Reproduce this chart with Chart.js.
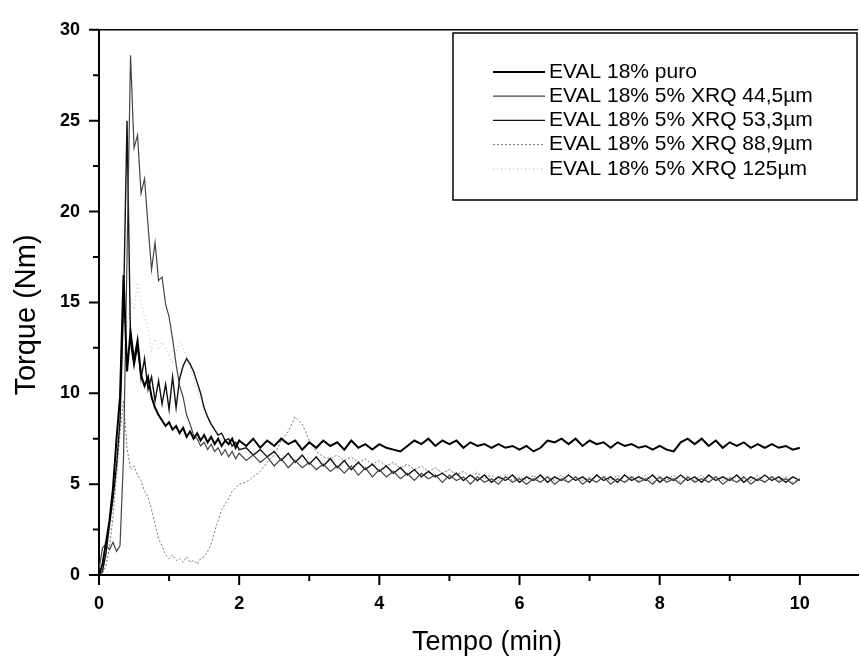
<!DOCTYPE html>
<html>
<head>
<meta charset="utf-8">
<script src="https://cdn.jsdelivr.net/npm/chart.js@4"></script>
<style>
  body { margin: 0; background: #fff; }
</style>
</head>
<body>
<canvas id="myChart" width="860" height="656"></canvas>
<script>
const time = [
  0, 0.05, 0.1, 0.15, 0.2, 0.25, 0.3, 0.35, 0.4, 0.45, 0.5, 0.55, 0.6, 0.65, 0.7, 0.75, 0.8, 0.85, 0.9, 0.95,
  1.0, 1.05, 1.1, 1.15, 1.2, 1.25, 1.3, 1.35, 1.4, 1.45, 1.5, 1.55, 1.6, 1.65, 1.7, 1.75, 1.8, 1.85, 1.9, 1.95, 2.0,
  2.1, 2.2, 2.3, 2.4, 2.5, 2.6, 2.7, 2.8, 2.9, 3.0, 3.1, 3.2, 3.3, 3.4, 3.5, 3.6, 3.7, 3.8, 3.9, 4.0,
  4.1, 4.2, 4.3, 4.4, 4.5, 4.6, 4.7, 4.8, 4.9, 5.0, 5.1, 5.2, 5.3, 5.4, 5.5, 5.6, 5.7, 5.8, 5.9, 6.0,
  6.1, 6.2, 6.3, 6.4, 6.5, 6.6, 6.7, 6.8, 6.9, 7.0, 7.1, 7.2, 7.3, 7.4, 7.5, 7.6, 7.7, 7.8, 7.9, 8.0,
  8.1, 8.2, 8.3, 8.4, 8.5, 8.6, 8.7, 8.8, 8.9, 9.0, 9.1, 9.2, 9.3, 9.4, 9.5, 9.6, 9.7, 9.8, 9.9, 10.0
]

const labels = [
  "EVAL 18% puro",
  "EVAL 18% 5% XRQ 44,5\u00b5m",
  "EVAL 18% 5% XRQ 53,3\u00b5m",
  "EVAL 18% 5% XRQ 88,9\u00b5m",
  "EVAL 18% 5% XRQ 125\u00b5m"
]

const puro = [
  0, 0.6, 1.8, 3.0, 4.8, 7.5, 9.8, 16.5, 11.2, 13.4, 11.8, 12.9, 11.0, 10.4, 10.9, 9.8, 9.2, 8.8, 8.5, 8.2,
  8.4, 8.0, 8.2, 7.8, 8.1, 7.6, 7.9, 7.5, 7.8, 7.4, 7.7, 7.3, 7.6, 7.2, 7.5, 7.1, 7.4, 7.2, 7.5, 7.0, 7.4,
  7.1, 7.5, 7.0, 7.4, 7.1, 7.5, 7.2, 7.4, 6.9, 7.3, 7.0, 7.4, 7.1, 7.3, 6.9, 7.4, 7.0, 7.2, 6.9, 7.2,
  7.0, 6.9, 6.8, 7.1, 7.4, 7.2, 7.5, 7.1, 7.4, 7.2, 7.4, 7.0, 7.3, 7.1, 7.2, 7.0, 7.2, 7.0, 7.1, 6.9,
  7.1, 6.8, 7.0, 7.4, 7.3, 7.5, 7.2, 7.5, 7.1, 7.4, 7.2, 7.3, 7.0, 7.3, 7.1, 7.2, 7.0, 7.1, 6.9, 7.1,
  6.9, 6.8, 7.3, 7.5, 7.2, 7.5, 7.1, 7.4, 7.0, 7.3, 7.1, 7.3, 7.0, 7.2, 7.0, 7.2, 7.0, 7.1, 6.9, 7.0
]

const xrq445 = [
  0.3, 1.5, 1.7, 1.4, 1.8, 1.3, 1.6, 6.5, 17.5, 28.6, 23.5, 24.2, 21.0, 21.8, 19.2, 16.8, 18.3, 16.2, 16.4, 14.9,
  14.2, 13.0, 11.6, 10.4, 9.8, 8.8, 8.3, 7.7, 7.5, 7.1, 7.3, 6.9, 7.2, 6.8, 7.0, 6.6, 6.9, 6.5, 6.8, 6.4, 6.7,
  6.3, 6.6, 6.2, 6.5, 6.0, 6.4, 5.9, 6.3, 5.9, 6.2, 5.8, 6.1, 5.7, 6.0, 5.6, 6.0, 5.5, 5.9, 5.4, 5.8,
  5.4, 5.7, 5.3, 5.6, 5.2, 5.6, 5.3, 5.5, 5.1, 5.5, 5.2, 5.4, 5.0, 5.4, 5.1, 5.3, 5.0, 5.4, 5.1, 5.3,
  5.0, 5.3, 5.1, 5.4, 5.0, 5.3, 5.1, 5.4, 5.0, 5.3, 5.1, 5.4, 5.0, 5.3, 5.1, 5.4, 5.1, 5.3, 5.0, 5.4,
  5.1, 5.3, 5.0, 5.4, 5.1, 5.3, 5.1, 5.4, 5.0, 5.3, 5.1, 5.4, 5.0, 5.3, 5.1, 5.4, 5.1, 5.3, 5.0, 5.3
]

const xrq533 = [
  0, 0.2, 1.2, 2.8, 4.2, 6.0, 8.5, 14.8, 25.0, 12.8, 11.5, 12.6, 10.8, 11.9, 10.2, 10.9, 9.6, 10.7, 9.4, 10.5,
  9.1, 10.9, 9.2, 10.8, 11.5, 11.9, 11.6, 11.2, 10.6, 10.0, 9.2, 8.7, 8.3, 8.0, 7.7, 7.8, 7.4, 7.5, 7.1, 7.3, 6.9,
  7.0, 6.6, 6.9, 6.5, 6.8, 6.3, 6.7, 6.2, 6.6, 6.1, 6.5, 6.0, 6.4, 5.9, 6.3, 5.8, 6.2, 5.8, 6.1, 5.7,
  6.0, 5.6, 5.9, 5.5, 5.8, 5.4, 5.7, 5.4, 5.6, 5.3, 5.6, 5.2, 5.5, 5.2, 5.5, 5.1, 5.4, 5.2, 5.5, 5.1,
  5.4, 5.2, 5.5, 5.1, 5.4, 5.2, 5.5, 5.2, 5.4, 5.1, 5.5, 5.2, 5.4, 5.1, 5.5, 5.2, 5.4, 5.2, 5.5, 5.1,
  5.4, 5.2, 5.5, 5.2, 5.4, 5.1, 5.5, 5.2, 5.4, 5.2, 5.5, 5.1, 5.4, 5.2, 5.5, 5.2, 5.4, 5.1, 5.4, 5.2
]

const xrq889 = [
  0, 0.1, 0.5, 1.5, 3.2, 5.5, 7.8, 9.6, 7.0, 5.8, 6.0, 5.5, 5.2, 4.6, 4.3, 3.6, 2.8, 2.0, 1.6, 1.1,
  0.9, 1.1, 0.8, 0.9, 0.7, 1.0, 0.7, 0.8, 0.6, 0.9, 1.0, 1.3, 1.7, 2.4, 3.0, 3.6, 3.9, 4.2, 4.6, 4.8, 5.0,
  5.1, 5.4, 5.7, 6.2, 6.6, 7.4, 7.9, 8.7, 8.3, 7.4, 6.8, 6.5, 6.4, 6.6, 6.3, 6.5, 6.2, 6.4, 6.1, 6.3,
  6.0, 6.2, 5.9, 6.1, 5.8, 6.0, 5.7, 5.9, 5.6, 5.8, 5.5, 5.7, 5.4, 5.6, 5.3, 5.5, 5.2, 5.5, 5.2, 5.4,
  5.2, 5.5, 5.1, 5.4, 5.2, 5.5, 5.1, 5.4, 5.2, 5.4, 5.1, 5.4, 5.2, 5.5, 5.1, 5.3, 5.2, 5.5, 5.1, 5.3,
  5.2, 5.5, 5.1, 5.3, 5.2, 5.5, 5.1, 5.4, 5.2, 5.4, 5.1, 5.3, 5.2, 5.5, 5.1, 5.4, 5.2, 5.4, 5.1, 5.3
]

const xrq125 = [
  0, 0.2, 0.8, 2.0, 4.0, 6.5, 9.5, 12.0, 13.8, 15.2, 14.6, 16.1, 15.0, 14.2, 13.5, 12.3, 13.0, 12.4, 12.8, 12.5,
  12.0, 11.6, 12.3, 12.8, 12.5, 12.0, 11.4, 10.8, 10.1, 9.6, 9.0, 8.6, 8.2, 7.9, 7.6, 7.4, 7.3, 7.1, 7.0, 6.9, 6.8,
  6.7, 6.8, 6.6, 6.7, 6.5, 6.6, 6.4, 6.6, 6.3, 6.5, 6.3, 6.5, 6.2, 6.4, 6.2, 6.4, 6.1, 6.3, 6.0, 6.2,
  6.0, 6.1, 5.9, 6.0, 5.8, 5.9, 5.7, 5.9, 5.6, 5.8, 5.6, 5.7, 5.5, 5.7, 5.4, 5.6, 5.4, 5.6, 5.3, 5.5,
  5.3, 5.5, 5.3, 5.5, 5.2, 5.4, 5.3, 5.5, 5.2, 5.4, 5.3, 5.5, 5.2, 5.4, 5.3, 5.5, 5.2, 5.4, 5.3, 5.5,
  5.2, 5.4, 5.3, 5.5, 5.2, 5.4, 5.3, 5.5, 5.2, 5.4, 5.3, 5.5, 5.2, 5.4, 5.3, 5.5, 5.2, 5.4, 5.3, 5.4
]

const xTicks = [0, 2, 4, 6, 8, 10]
const xMinor = [1, 3, 5, 7, 9]
const yTicks = [0, 5, 10, 15, 20, 25, 30]
const yMinor = [2.5, 7.5, 12.5, 17.5, 22.5, 27.5]
const xTitle = "Tempo (min)"
const yTitle = "Torque (Nm)"

const FONT = "Arial, 'Liberation Sans', sans-serif"

function pts(vals) {
  return time.map((t, i) => ({ x: t, y: vals[i] }))
}

// frame line on top, tick marks, axis titles and the boxed legend
const decor = {
  id: "decor",
  afterDraw(chart) {
    const c = chart.ctx
    const a = chart.chartArea
    const xs = chart.scales.x
    const ys = chart.scales.y
    c.save()
    c.strokeStyle = "#000"
    c.lineWidth = 1.5
    c.beginPath()
    c.moveTo(a.left, a.top)
    c.lineTo(a.right, a.top)
    c.stroke()

    c.lineWidth = 2
    c.beginPath()
    xTicks.forEach(v => {
      const px = xs.getPixelForValue(v)
      c.moveTo(px, a.bottom)
      c.lineTo(px, a.bottom + 10)
    })
    xMinor.forEach(v => {
      const px = xs.getPixelForValue(v)
      c.moveTo(px, a.bottom)
      c.lineTo(px, a.bottom + 6)
    })
    yTicks.forEach(v => {
      const py = ys.getPixelForValue(v)
      c.moveTo(a.left, py)
      c.lineTo(a.left - 10, py)
    })
    yMinor.forEach(v => {
      const py = ys.getPixelForValue(v)
      c.moveTo(a.left, py)
      c.lineTo(a.left - 6, py)
    })
    c.stroke()

    // axis titles
    c.fillStyle = "#000"
    c.textAlign = "center"
    c.textBaseline = "middle"
    c.font = "27px " + FONT
    c.fillText(xTitle, 487, 643)
    c.save()
    c.translate(27, 315)
    c.rotate(-Math.PI / 2)
    c.font = "29px " + FONT
    c.fillText(yTitle, 0, 0)
    c.restore()

    // legend box
    c.lineWidth = 1.5
    c.strokeRect(453, 33, 404, 167)
    c.font = "21px " + FONT
    c.textAlign = "left"
    chart.data.datasets.forEach((ds, i) => {
      const y = 72 + i * 24.2
      c.save()
      c.strokeStyle = ds.borderColor
      c.lineWidth = ds.borderWidth
      c.setLineDash(ds.borderDash || [])
      c.beginPath()
      c.moveTo(493, y)
      c.lineTo(545, y)
      c.stroke()
      c.restore()
      c.fillText(ds.label, 549, y)
    })
    c.restore()
  },
}

const ctx = document.getElementById("myChart").getContext("2d")
let myChart = new Chart(ctx, {
  type: "line",
  data: {
    datasets: [
      { label: labels[0], data: pts(puro), borderColor: "#000", borderWidth: 2 },
      { label: labels[1], data: pts(xrq445), borderColor: "#444", borderWidth: 1.2 },
      { label: labels[2], data: pts(xrq533), borderColor: "#111", borderWidth: 1.4 },
      { label: labels[3], data: pts(xrq889), borderColor: "#777", borderWidth: 1, borderDash: [2, 2] },
      { label: labels[4], data: pts(xrq125), borderColor: "#bbb", borderWidth: 1, borderDash: [1, 3] },
    ],
  },
  options: {
    responsive: false,
    animation: false,
    layout: { padding: { top: 22, right: 2, left: 0, bottom: 0 } },
    elements: { point: { radius: 0 }, line: { tension: 0 } },
    scales: {
      x: {
        type: "linear",
        min: 0,
        max: 10.83,
        afterBuildTicks: s => { s.ticks = xTicks.map(v => ({ value: v })) },
        afterFit: s => { s.height = 81 },
        grid: { display: false, drawTicks: false },
        border: { display: true, color: "#000", width: 2 },
        ticks: { color: "#000", font: { family: FONT, size: 18, weight: "bold" }, padding: 18, maxRotation: 0 },
      },
      y: {
        min: 0,
        max: 30,
        afterBuildTicks: s => { s.ticks = yTicks.map(v => ({ value: v })) },
        afterFit: s => { s.width = 99 },
        grid: { display: false, drawTicks: false },
        border: { display: true, color: "#000", width: 2 },
        ticks: { color: "#000", font: { family: FONT, size: 18, weight: "bold" }, padding: 19 },
      },
    },
    plugins: {
      legend: { display: false },
      tooltip: { enabled: false },
    },
  },
  plugins: [decor],
})
</script>
</body>
</html>
